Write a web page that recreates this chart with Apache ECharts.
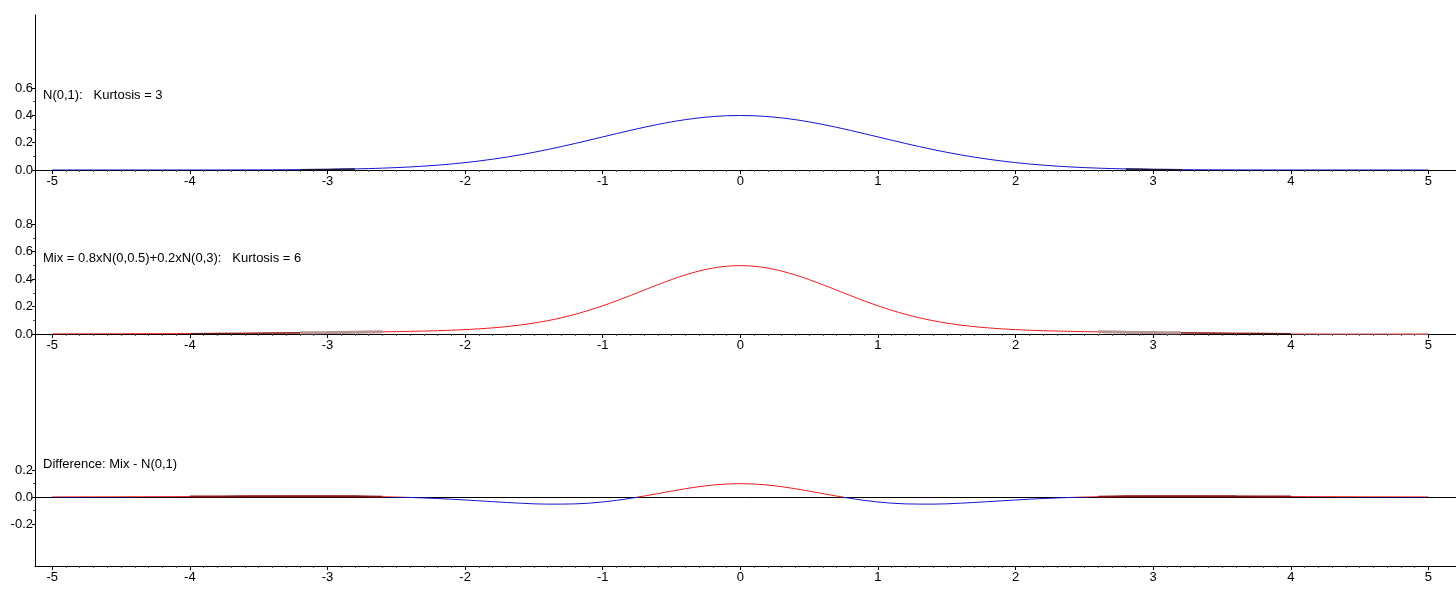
<!DOCTYPE html>
<html>
<head>
<meta charset="utf-8">
<script src="https://cdn.jsdelivr.net/npm/echarts@6/dist/echarts.min.js"></script>
<style>
html,body{margin:0;padding:0;background:#fff;}
#chart{width:1456px;height:597px;}
</style>
</head>
<body>
<div id="chart"></div>
<script>
// ---- data ----
const xValues = [-5,-4.5,-4,-3.6,-3.2,-3,-2.8,-2.6,-2.4,-2.2,-2,-1.8,-1.6,-1.4,-1.2,-1,-0.8,-0.6,-0.4,-0.2,0,
  0.2,0.4,0.6,0.8,1,1.2,1.4,1.6,1.8,2,2.2,2.4,2.6,2.8,3,3.2,3.6,4,4.5,5];
const normalDensity = [0,0.00002,0.0001,0.0006,0.0024,0.0044,0.0079,0.0136,0.0224,0.0355,0.0540,0.0790,0.1109,0.1497,0.1942,0.2420,0.2897,0.3332,0.3683,0.3910,0.3989,
  0.3910,0.3683,0.3332,0.2897,0.2420,0.1942,0.1497,0.1109,0.0790,0.0540,0.0355,0.0224,0.0136,0.0079,0.0044,0.0024,0.0006,0.0001,0.00002,0];
const mixDensity = [0.0007,0.0016,0.0032,0.0053,0.0084,0.0103,0.0127,0.0155,0.0191,0.0241,0.0319,0.0445,0.0650,0.0968,0.1432,0.2051,0.2794,0.3583,0.4295,0.4795,0.4975,
  0.4795,0.4295,0.3583,0.2794,0.2051,0.1432,0.0968,0.0650,0.0445,0.0319,0.0241,0.0191,0.0155,0.0127,0.0103,0.0084,0.0053,0.0032,0.0016,0.0007];
const differenceValues = [0.0007,0.0016,0.0031,0.0047,0.0060,0.0059,0.0048,0.0019,-0.0033,-0.0114,-0.0221,-0.0345,-0.0459,-0.0529,-0.0510,-0.0369,-0.0103,0.0251,0.0612,0.0885,0.0986,
  0.0885,0.0612,0.0251,-0.0103,-0.0369,-0.0510,-0.0529,-0.0459,-0.0345,-0.0221,-0.0114,-0.0033,0.0019,0.0048,0.0059,0.0060,0.0047,0.0031,0.0016,0.0007];
const xTickLabels = [-5,-4,-3,-2,-1,0,1,2,3,4,5];
const yTicksTop = [0,0.2,0.4,0.6];
const yTicksMid = [0,0.2,0.4,0.6,0.8];
const yTicksBottom = [-0.2,0,0.2];
const panelTitles = ['N(0,1):   Kurtosis = 3','Mix = 0.8xN(0,0.5)+0.2xN(0,3):   Kurtosis = 6','Difference: Mix - N(0,1)'];
// x-ranges where the original plot shows darker / overdrawn tail segments
const topDarkRanges = [[-3.2,-2.8],[2.8,3.2]];
const midDarkRanges = [[-4,-3.2],[3.2,4]];
const midGreyRanges = [[-3.2,-2.6],[2.6,3.2]];
const midPaleRanges = [[4,5]];
const diffDarkRanges = [[-4,-2.6],[2.6,4]];

// ---- helpers ----
const FONT = "'Liberation Sans', Arial, sans-serif";
const BLUE = '#1414d2', RED = '#ee1c1c';
const xMinor = [];
for (let i = -50; i <= 50; i++) { if (i % 10 !== 0) xMinor.push(i / 10); }
const pairs = (ys) => xValues.map((x, i) => [x, ys[i]]);
const pairsIn = (ys, r) => pairs(ys).filter(p => p[0] >= r[0] - 1e-9 && p[0] <= r[1] + 1e-9);

const grids = [
  {left:35, width:1421, top:15, height:155},
  {left:35, width:1421, top:170, height:164},
  {left:35, width:1421, top:334, height:232}
];
const yRanges = [[0,1.134],[0,1.193],[-0.511,1.207]];
const yMajor = [yTicksTop, yTicksMid, yTicksBottom];
const yMinor = [[0.1,0.3,0.5],[0.1,0.3,0.5,0.7],[-0.1,0.1]];

const xAxes = [], yAxes = [];
grids.forEach((g, i) => {
  xAxes.push({
    gridIndex:i, type:'value', min:-5.125, max:5.2, position:'bottom',
    axisLine:{show:true, onZero:false, lineStyle:{color:'#000', width:1}},
    axisTick:{show:true, customValues:xTickLabels, length:4, lineStyle:{color:'#000'}},
    axisLabel:{show:true, customValues:xTickLabels, margin:5, color:'#000', fontSize:13, fontFamily:FONT,
      formatter:(v)=>String(v)},
    splitLine:{show:false}
  });
  xAxes.push({
    gridIndex:i, type:'value', min:-5.125, max:5.2, position:'bottom',
    axisLine:{show:false, onZero:false},
    axisTick:{show:true, customValues:xMinor, length:2, lineStyle:{color:'#555'}},
    axisLabel:{show:false}, splitLine:{show:false}
  });
  yAxes.push({
    gridIndex:i, type:'value', min:yRanges[i][0], max:yRanges[i][1], position:'left',
    axisLine:{show:true, onZero:false, lineStyle:{color:'#000', width:1}},
    axisTick:{show:true, customValues:yMajor[i], length:3, lineStyle:{color:'#000'}},
    axisLabel:{show:true, customValues:yMajor[i], margin:2, color:'#000', fontSize:13, fontFamily:FONT,
      formatter:(v)=>v.toFixed(1)},
    splitLine:{show:false}
  });
  yAxes.push({
    gridIndex:i, type:'value', min:yRanges[i][0], max:yRanges[i][1], position:'left',
    axisLine:{show:false, onZero:false},
    axisTick:{show:true, customValues:yMinor[i], length:2, lineStyle:{color:'#555'}},
    axisLabel:{show:false}, splitLine:{show:false}
  });
});
// zero line in the difference panel
xAxes.push({
  gridIndex:2, type:'value', min:-5.125, max:5.2, position:'bottom',
  axisLine:{show:true, onZero:true, lineStyle:{color:'#000', width:1}},
  axisTick:{show:false}, axisLabel:{show:false}, splitLine:{show:false}
});

const titles = panelTitles.map((t, i) => ({
  text:t, left:43, top:[89,252,458][i], padding:0,
  textStyle:{fontSize:13, fontWeight:'normal', color:'#000', fontFamily:FONT}
}));

const overlay = (ys, ranges, axis, color, width) => ranges.map(r => ({
  type:'line', xAxisIndex:axis, yAxisIndex:axis, data:pairsIn(ys, r), showSymbol:false, smooth:0.35,
  lineStyle:{color:color, width:width}, itemStyle:{color:color}, z:3
}));

const option = {
  animation:false,
  backgroundColor:'#fff',
  title:titles,
  grid:grids,
  xAxis:xAxes,
  yAxis:yAxes,
  visualMap:[{type:'piecewise', show:false, seriesIndex:2, dimension:1,
    pieces:[{gte:-1, lt:0, color:BLUE},{gte:0, lte:1, color:RED}], outOfRange:{color:RED}}],
  series:[
    {type:'line', xAxisIndex:0, yAxisIndex:0, data:pairs(normalDensity), showSymbol:false, smooth:0.35,
      lineStyle:{color:BLUE, width:1}, itemStyle:{color:BLUE}},
    {type:'line', xAxisIndex:2, yAxisIndex:2, data:pairs(mixDensity), showSymbol:false, smooth:0.35,
      lineStyle:{color:RED, width:1}, itemStyle:{color:RED}},
    {type:'line', xAxisIndex:4, yAxisIndex:4, data:pairs(differenceValues), showSymbol:false, smooth:0.35,
      lineStyle:{width:1}},
    ...overlay(normalDensity, topDarkRanges, 0, '#1a1a40', 1.5),
    ...overlay(mixDensity, midDarkRanges, 2, '#6a1818', 1.2),
    ...overlay(mixDensity, midGreyRanges, 2, '#b89494', 3),
    ...overlay(mixDensity, midPaleRanges, 2, '#f4a0a0', 1.5),
    ...overlay(differenceValues, diffDarkRanges, 4, '#8c1414', 2)
  ]
};
const chart = echarts.init(document.getElementById('chart'), null, {renderer:'canvas'});
chart.setOption(option);
</script>
</body>
</html>
